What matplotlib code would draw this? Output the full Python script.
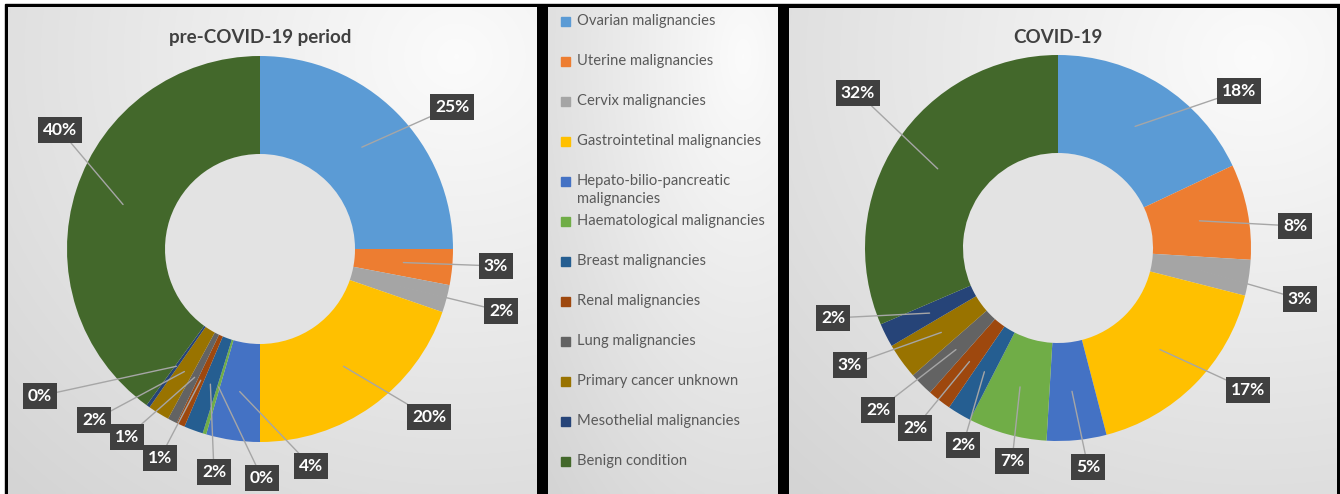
import numpy as np
import matplotlib.pyplot as plt
from matplotlib.patches import Rectangle, Circle

plt.rcParams['font.family'] = ['Lato', 'DejaVu Sans']

categories = ['Ovarian malignancies', 'Uterine malignancies', 'Cervix malignancies',
              'Gastrointetinal malignancies', 'Hepato-bilio-pancreatic\nmalignancies',
              'Haematological malignancies', 'Breast malignancies', 'Renal malignancies',
              'Lung malignancies', 'Primary cancer unknown', 'Mesothelial malignancies',
              'Benign condition']
colors = ['#5B9BD5', '#ED7D31', '#A5A5A5', '#FFC000', '#4472C4', '#70AD47',
          '#255E91', '#9E480E', '#636363', '#997300', '#264478', '#43682B']

# percentages
pre_covid = [25, 3, 2.3, 19.7, 4.5, 0.3, 1.6, 0.7, 0.8, 1.8, 0.3, 40]
covid = [18, 8, 3, 17, 5, 6.6, 2, 2, 2, 3, 2, 31.5]

# label box positions (pixels, origin top-left) - layout only
pre_label_pos = [(452, 107), (496, 266), (501, 311), (429, 417), (311, 466), (262, 478),
                 (214, 472), (160, 458), (127, 437), (94, 420), (40, 396), (60, 130)]
covid_label_pos = [(1239, 91), (1295, 226), (1300, 299), (1248, 390), (1088, 467), (1012, 461),
                   (963, 445), (915, 428), (878, 410), (850, 365), (833, 318), (858, 93)]

W, H = 1340, 494
fig = plt.figure(figsize=(W / 100, H / 100), dpi=100, facecolor='white')
ax = fig.add_axes([0, 0, 1, 1])
ax.axis('off')


def Y(y):
    return H - y


# black frame behind the three panels
ax.add_patch(Rectangle((5, 0), W - 5, Y(4), color='black', zorder=0))


def panel(x0, y0, x1, y1, cx=0.85, cy=0.9):
    gx, gy = np.meshgrid(np.linspace(0, 1, 200), np.linspace(1, 0, 200))
    d = np.sqrt((gx - cx) ** 2 + (gy - cy) ** 2) / 1.2
    g = 0.985 - 0.15 * np.clip(d, 0, 1)
    img = np.dstack([g, g, g])
    ax.imshow(img, extent=[x0, x1, Y(y1), Y(y0)], zorder=1, aspect='auto',
              interpolation='bilinear')


panel(8, 8, 537, H)
panel(548, 8, 778, H)
panel(789, 9, 1337, H)


def donut(values, cx, cy, labels_pos, title):
    R, w = 193, 98
    wedges, _ = ax.pie(values, colors=colors, startangle=90, counterclock=False,
                       radius=R, center=(cx, Y(cy)),
                       wedgeprops=dict(width=w, edgecolor='none', zorder=3), frame=True)
    ax.add_patch(Circle((cx, Y(cy)), R - w, fc='#e3e3e3', ec='none', zorder=2))
    rmid = R - w / 2
    for wdg, v, (lx, ly) in zip(wedges, values, labels_pos):
        ang = np.deg2rad((wdg.theta1 + wdg.theta2) / 2)
        px = cx + rmid * np.cos(ang)
        py = Y(cy) + rmid * np.sin(ang)
        ax.annotate(f'{round(v)}%', xy=(px, py), xytext=(lx, Y(ly)),
                    ha='center', va='center', fontsize=12.5, fontweight='bold',
                    color='white', zorder=5,
                    bbox=dict(boxstyle='square,pad=0.28', fc='#404040', ec='none'),
                    arrowprops=dict(arrowstyle='-', color='#a6a6a6', lw=1,
                                    shrinkA=0, shrinkB=0))
    ax.text(cx, Y(38), title, ha='center', va='center', fontsize=13.5,
            fontweight='bold', color='#404040', zorder=5)


donut(pre_covid, 260, 249, pre_label_pos, 'pre-COVID-19 period')
donut(covid, 1058, 248, covid_label_pos, 'COVID-19')

# legend panel
for i, (name, c) in enumerate(zip(categories, colors)):
    y = 22 + 40 * i
    ax.add_patch(Rectangle((561, Y(y) - 4.5), 9, 9, color=c, zorder=4))
    ax.text(577, Y(y - 8), name, ha='left', va='top', fontsize=10.6,
            color='#595959', zorder=4, linespacing=1.35)

ax.set_xlim(0, W)
ax.set_ylim(0, H)
fig.savefig('out.png', dpi=100, facecolor='white')
